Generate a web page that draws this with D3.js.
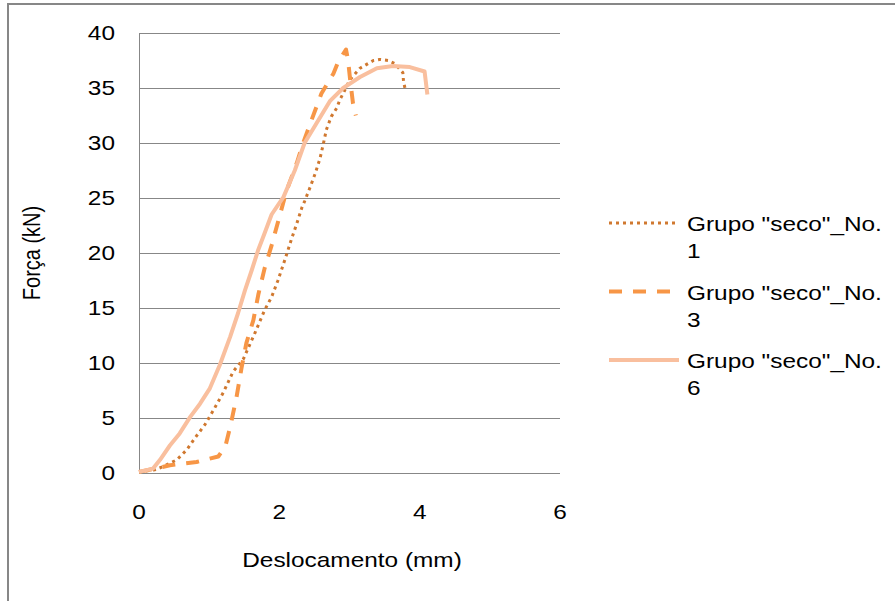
<!DOCTYPE html>
<html>
<head>
<meta charset="utf-8">
<script src="https://cdn.jsdelivr.net/npm/d3@7"></script>
<style>
  body { margin: 0; background: #fff; }
  svg text { font-family: "Liberation Sans", Arial, sans-serif; fill: #000; font-size: 20px; }
</style>
</head>
<body>
<svg id="chart" width="895" height="601"></svg>
<script>
// Data
var xTicks = [0, 2, 4, 6];
var yTicks = [0, 5, 10, 15, 20, 25, 30, 35, 40];
var seriesNames = ['Grupo "seco"_No.', 'Grupo "seco"_No.', 'Grupo "seco"_No.'];
var seriesNumbers = ["1", "3", "6"];

var disp1 = [0, 0.23, 0.35, 0.54, 0.68, 0.80, 0.94, 1.06, 1.20, 1.34, 1.49, 1.65, 1.79, 1.89, 1.98, 2.08, 2.17, 2.25, 2.32, 2.36, 2.44, 2.51, 2.58, 2.63, 2.67, 2.74, 2.82, 2.86, 2.91, 3.00, 3.15, 3.34, 3.43, 3.55, 3.65, 3.76, 3.77, 3.79];
var force1 = [0.1, 0.3, 0.6, 1.2, 2.1, 3.2, 4.4, 5.7, 7.3, 9.2, 10.4, 12.7, 14.8, 16.0, 17.5, 19.4, 21.2, 22.7, 24.1, 24.7, 26.0, 27.2, 28.6, 30.0, 31.2, 32.4, 33.2, 33.9, 34.5, 35.7, 36.8, 37.5, 37.6, 37.5, 37.2, 36.4, 35.6, 35.0];

var disp3 = [0, 0.30, 0.44, 0.82, 1.13, 1.23, 1.30, 1.39, 1.46, 1.53, 1.63, 1.70, 1.79, 1.89, 2.01, 2.10, 2.25, 2.34, 2.46, 2.60, 2.77, 2.84, 2.95, 2.98, 3.01, 3.05, 3.09];
var force3 = [0.1, 0.5, 0.7, 1.0, 1.5, 2.4, 4.2, 6.9, 9.5, 11.8, 13.9, 16.2, 18.6, 20.7, 23.5, 25.6, 28.2, 30.0, 32.1, 34.5, 36.3, 37.4, 38.5, 37.5, 35.7, 33.6, 32.5];

var disp6 = [0, 0.20, 0.30, 0.44, 0.58, 0.73, 0.87, 1.01, 1.15, 1.30, 1.41, 1.51, 1.61, 1.70, 1.79, 1.89, 2.06, 2.22, 2.36, 2.53, 2.72, 2.91, 3.15, 3.39, 3.62, 3.86, 4.07, 4.11];
var force6 = [0.1, 0.4, 1.2, 2.5, 3.6, 5.1, 6.3, 7.7, 9.8, 12.4, 14.5, 16.6, 18.5, 20.3, 21.8, 23.5, 25.1, 27.5, 30.0, 31.8, 33.8, 35.0, 36.0, 36.8, 37.0, 36.9, 36.5, 34.4];

// the original text is drawn a bit wider than it is tall
var stretch = 1.22;

var svg = d3.select("#chart");

// places a text stretched horizontally at (px, py)
function addText(parent, px, py, anchor, str) {
  return parent.append("g")
    .attr("transform", "translate(" + px + "," + py + ") scale(" + stretch + ",1)")
    .append("text")
    .attr("text-anchor", anchor)
    .text(str);
}

// outer chart border (runs off right and bottom)
svg.append("rect")
  .attr("x", 8).attr("y", 4)
  .attr("width", 900).attr("height", 610)
  .attr("fill", "none")
  .attr("stroke", "#878787")
  .attr("stroke-width", 2);

var x = d3.scaleLinear().domain([0, 6]).range([139, 560]);
var y = d3.scaleLinear().domain([0, 40]).range([473, 33]);

// horizontal gridlines
svg.append("g")
  .selectAll("line")
  .data(yTicks)
  .enter()
  .append("line")
  .attr("x1", x(0)).attr("x2", x(6))
  .attr("y1", function (d) { return Math.round(y(d)) + 0.5; })
  .attr("y2", function (d) { return Math.round(y(d)) + 0.5; })
  .attr("stroke", "#878787")
  .attr("stroke-width", 1);

// vertical axis line
svg.append("line")
  .attr("x1", Math.round(x(0)) + 0.5).attr("x2", Math.round(x(0)) + 0.5)
  .attr("y1", y(40)).attr("y2", y(0))
  .attr("stroke", "#878787")
  .attr("stroke-width", 1);

// tick labels
yTicks.forEach(function (d) {
  addText(svg, 115, y(d) + 7, "end", d);
});
xTicks.forEach(function (d) {
  addText(svg, x(d), 519, "middle", d);
});

// axis titles
addText(svg, 352, 567, "middle", "Deslocamento (mm)");

svg.append("g")
  .attr("transform", "translate(40,253) scale(" + stretch + ",1) rotate(-90)")
  .append("text")
  .attr("text-anchor", "middle")
  .text("Força (kN)");

// series
var series = [
  { xs: disp1, ys: force1, color: "#d0782f", width: 3, dash: "3,4" },
  { xs: disp3, ys: force3, color: "#f79646", width: 4, dash: "13,11" },
  { xs: disp6, ys: force6, color: "#f9bf9e", width: 4, dash: null }
];

var line = d3.line()
  .x(function (d) { return x(d[0]); })
  .y(function (d) { return y(d[1]); });

series.forEach(function (s) {
  var pts = s.xs.map(function (v, i) { return [v, s.ys[i]]; });
  svg.append("path")
    .datum(pts)
    .attr("d", line)
    .attr("fill", "none")
    .attr("stroke", s.color)
    .attr("stroke-width", s.width)
    .attr("stroke-dasharray", s.dash)
    .attr("stroke-linejoin", "round");
});

// legend
series.forEach(function (s, i) {
  var g = svg.append("g").attr("transform", "translate(609," + (223 + i * 68.5) + ")");
  g.append("line")
    .attr("x1", 0).attr("x2", 70)
    .attr("y1", 0).attr("y2", 0)
    .attr("stroke", s.color)
    .attr("stroke-width", s.width)
    .attr("stroke-dasharray", s.dash);
  addText(g, 78, 8, "start", seriesNames[i]);
  addText(g, 78, 35, "start", seriesNumbers[i]);
});
</script>
</body>
</html>
